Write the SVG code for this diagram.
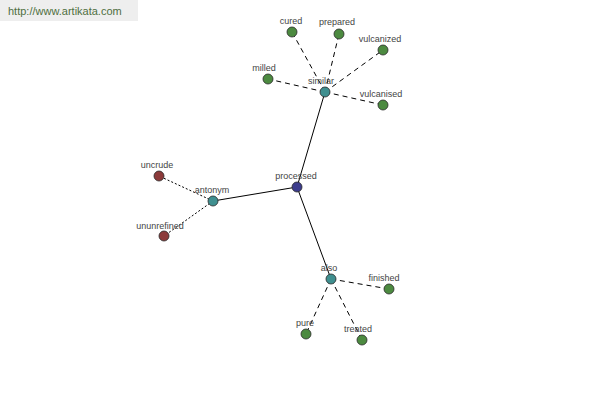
<svg xmlns="http://www.w3.org/2000/svg" width="600" height="400" viewBox="0 0 600 400">
<style>
text{font-family:"Liberation Sans",Arial,sans-serif;font-size:9px;fill:#444;text-anchor:middle}
.n{stroke:#2a2a2a;stroke-width:0.8}
.g{fill:#4c8a40}.t{fill:#3f8f8f}.r{fill:#8c3a3a}.b{fill:#3c3c8c}
.solid{stroke:#000;stroke-width:1;fill:none}
.dash{stroke:#000;stroke-width:1;stroke-dasharray:5,4;fill:none}
.dot{stroke:#000;stroke-width:1;stroke-dasharray:2,2;fill:none}
</style>
<rect width="600" height="400" fill="#fff"/>
<rect x="0" y="0" width="138" height="21" fill="#eeeeee"/>
<text x="8" y="15" style="font-size:11px;fill:#4f6f3f;text-anchor:start">http://www.artikata.com</text>
<g id="connectors">
<line class="solid" x1="297" y1="187" x2="325" y2="92"/>
<line class="solid" x1="297" y1="187" x2="213" y2="201"/>
<line class="solid" x1="297" y1="187" x2="331" y2="279"/>
<line class="dash" x1="325" y1="92" x2="292" y2="32"/>
<line class="dash" x1="325" y1="92" x2="339" y2="34"/>
<line class="dash" x1="325" y1="92" x2="383" y2="50"/>
<line class="dash" x1="325" y1="92" x2="268" y2="79"/>
<line class="dash" x1="325" y1="92" x2="383" y2="105"/>
<line class="dot" x1="213" y1="201" x2="159" y2="176"/>
<line class="dot" x1="213" y1="201" x2="164" y2="236"/>
<line class="dash" x1="331" y1="279" x2="389" y2="289"/>
<line class="dash" x1="331" y1="279" x2="306" y2="334"/>
<line class="dash" x1="331" y1="279" x2="362" y2="340"/>
</g>
<g id="cured"><circle class="n g" cx="292" cy="32" r="5"/><text x="291" y="24">cured</text></g>
<g id="prepared"><circle class="n g" cx="339" cy="34" r="5"/><text x="337" y="25">prepared</text></g>
<g id="vulcanized"><circle class="n g" cx="383" cy="50" r="5"/><text x="380" y="42">vulcanized</text></g>
<g id="milled"><circle class="n g" cx="268" cy="79" r="5"/><text x="264" y="71">milled</text></g>
<g id="vulcanised"><circle class="n g" cx="383" cy="105" r="5"/><text x="381" y="97">vulcanised</text></g>
<g id="similar"><circle class="n t" cx="325" cy="92" r="5"/><text x="321" y="84">similar</text></g>
<g id="uncrude"><circle class="n r" cx="159" cy="176" r="5"/><text x="157" y="168">uncrude</text></g>
<g id="ununrefined"><circle class="n r" cx="164" cy="236" r="5"/><text x="160" y="229">ununrefined</text></g>
<g id="antonym"><circle class="n t" cx="213" cy="201" r="5"/><text x="212" y="193">antonym</text></g>
<g id="processed"><circle class="n b" cx="297" cy="187" r="5"/><text x="296" y="179">processed</text></g>
<g id="also"><circle class="n t" cx="331" cy="279" r="5"/><text x="329" y="271">also</text></g>
<g id="finished"><circle class="n g" cx="389" cy="289" r="5"/><text x="384" y="281">finished</text></g>
<g id="pure"><circle class="n g" cx="306" cy="334" r="5"/><text x="305" y="326">pure</text></g>
<g id="treated"><circle class="n g" cx="362" cy="340" r="5"/><text x="358" y="332">treated</text></g>
</svg>
